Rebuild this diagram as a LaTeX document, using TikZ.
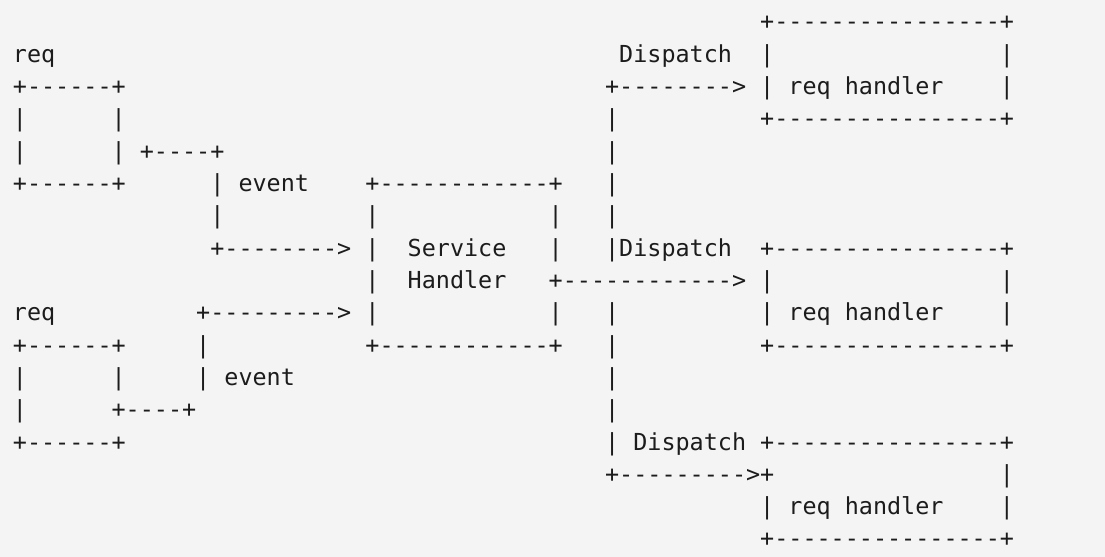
\documentclass[tikz,border=0pt]{standalone}
\usepackage{fontspec}
\setmonofont{DejaVu Sans Mono}
\usepackage{xcolor}
\usepackage{tikz}
\definecolor{paper}{RGB}{244,244,244}
\definecolor{ink}{RGB}{28,28,28}

\begin{document}
\begin{tikzpicture}[x=7.05pt, y=-16.155pt,
    ascii/.style={anchor=base west, inner sep=0pt, outer sep=0pt, text=ink,
      font=\ttfamily\fontsize{11.71}{14}\selectfont}]
  \fill[paper] (0,0) rectangle (78.369,17.239);
  \useasboundingbox (0,0) rectangle (78.369,17.239);
  \begin{scope}[shift={(0.918,0.928)}]
    % upper req box
    \node[ascii] (reqA) at (0,1) {req};
    \node[ascii] (reqAtop) at (0,2) {+------+};
    \node[ascii] (reqAl1) at (0,3) {|};
    \node[ascii] (reqAr1) at (7,3) {|};
    \node[ascii] (reqAl2) at (0,4) {|};
    \node[ascii] (reqAr2) at (7,4) {|};
    \node[ascii] (reqAbot) at (0,5) {+------+};

    % upper event line
    \node[ascii] (evA1) at (9,4) {+----+};
    \node[ascii] (evA2) at (14,5) {| event};
    \node[ascii] (evA3) at (14,6) {|};
    \node[ascii] (evA4) at (14,7) {+-------->};

    % lower req box
    \node[ascii] (reqB) at (0,9) {req};
    \node[ascii] (reqBtop) at (0,10) {+------+};
    \node[ascii] (reqBl1) at (0,11) {|};
    \node[ascii] (reqBr1) at (7,11) {|};
    \node[ascii] (reqBl2) at (0,12) {|};
    \node[ascii] (reqBr2) at (7,12) {+----+};
    \node[ascii] (reqBbot) at (0,13) {+------+};

    % lower event line
    \node[ascii] (evB1) at (13,9) {+--------->};
    \node[ascii] (evB2) at (13,10) {|};
    \node[ascii] (evB3) at (13,11) {| event};

    % service handler
    \node[ascii] (svtop) at (25,5) {+------------+};
    \node[ascii] (svl1) at (25,6) {|};
    \node[ascii] (svr1) at (38,6) {|};
    \node[ascii] (svl2) at (25,7) {|};
    \node[ascii] (svtxt1) at (28,7) {Service};
    \node[ascii] (svr2) at (38,7) {|};
    \node[ascii] (svl3) at (25,8) {|};
    \node[ascii] (svtxt2) at (28,8) {Handler};
    \node[ascii] (svout) at (38,8) {+------------>};
    \node[ascii] (svl4) at (25,9) {|};
    \node[ascii] (svr4) at (38,9) {|};
    \node[ascii] (svbot) at (25,10) {+------------+};

    % dispatch trunk
    \node[ascii] (dpA) at (43,1) {Dispatch};
    \node[ascii] (dpAarr) at (42,2) {+-------->};
    \node[ascii] (tr3) at (42,3) {|};
    \node[ascii] (tr4) at (42,4) {|};
    \node[ascii] (tr5) at (42,5) {|};
    \node[ascii] (tr6) at (42,6) {|};
    \node[ascii] (dpB) at (42,7) {|Dispatch};
    \node[ascii] (tr9) at (42,9) {|};
    \node[ascii] (tr10) at (42,10) {|};
    \node[ascii] (tr11) at (42,11) {|};
    \node[ascii] (tr12) at (42,12) {|};
    \node[ascii] (dpC) at (42,13) {| Dispatch};
    \node[ascii] (dpCarr) at (42,14) {+--------->+};

    % req handler boxes
    \node[ascii] (hdAtop) at (53,0) {+----------------+};
    \node[ascii] (hdAl1) at (53,1) {|};
    \node[ascii] (hdAr1) at (70,1) {|};
    \node[ascii] (hdAtxt) at (53,2) {| req handler};
    \node[ascii] (hdAr2) at (70,2) {|};
    \node[ascii] (hdAbot) at (53,3) {+----------------+};

    \node[ascii] (hdBtop) at (53,7) {+----------------+};
    \node[ascii] (hdBl1) at (53,8) {|};
    \node[ascii] (hdBr1) at (70,8) {|};
    \node[ascii] (hdBtxt) at (53,9) {| req handler};
    \node[ascii] (hdBr2) at (70,9) {|};
    \node[ascii] (hdBbot) at (53,10) {+----------------+};

    \node[ascii] (hdCtop) at (53,13) {+----------------+};
    \node[ascii] (hdCr1) at (70,14) {|};
    \node[ascii] (hdCtxt) at (53,15) {| req handler};
    \node[ascii] (hdCr2) at (70,15) {|};
    \node[ascii] (hdCbot) at (53,16) {+----------------+};
  \end{scope}
\end{tikzpicture}
\end{document}
